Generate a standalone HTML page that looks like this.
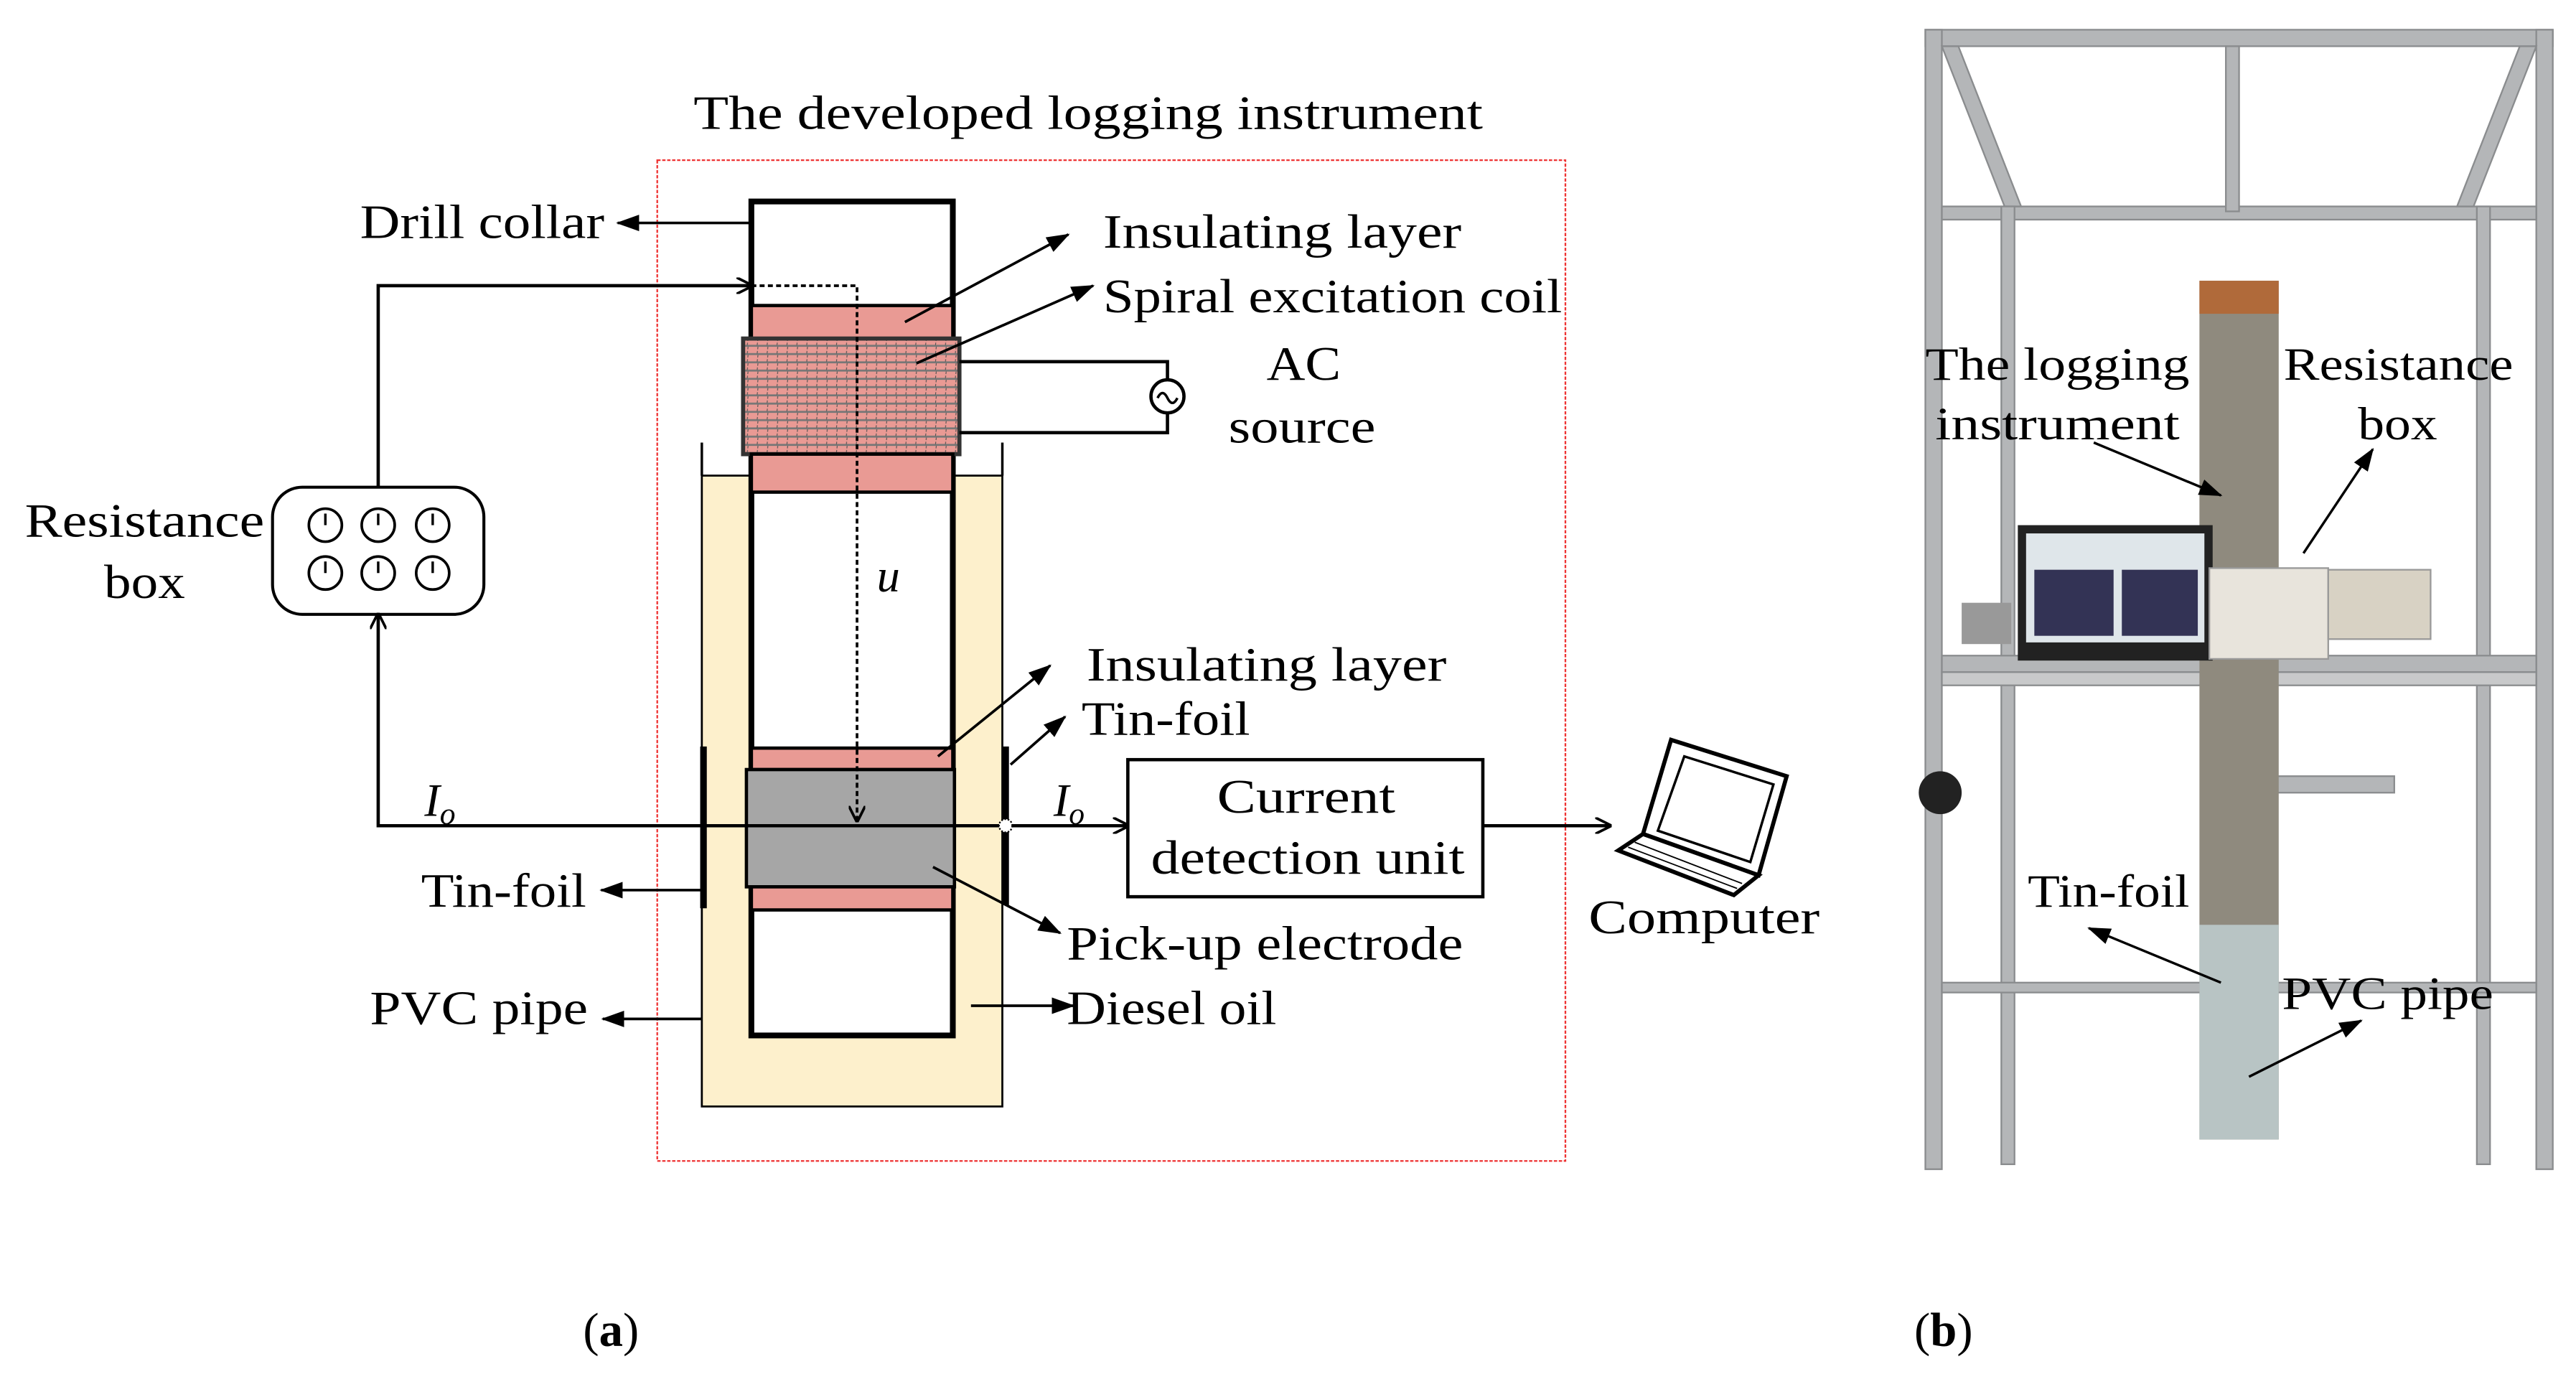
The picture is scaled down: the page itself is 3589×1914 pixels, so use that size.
<!DOCTYPE html>
<html><head><meta charset="utf-8"><style>
html,body{margin:0;padding:0;background:#fff;}
svg{display:block;}
text{font-family:"Liberation Serif",serif;fill:#000;}
</style></head><body>
<svg width="3589" height="1914" viewBox="0 0 1560 832" xmlns="http://www.w3.org/2000/svg">
<defs>
<marker id="a" markerWidth="10" markerHeight="10" refX="9" refY="5" orient="auto" markerUnits="userSpaceOnUse"><path d="M0,0 L10,5 L0,10" fill="none" stroke="#000" stroke-width="1.6"/></marker>
<marker id="f" markerWidth="14" markerHeight="10" refX="13" refY="5" orient="auto" markerUnits="userSpaceOnUse"><path d="M0,0 L14,5 L0,10 Z" fill="#000"/></marker>
<pattern id="h" width="6" height="5" patternUnits="userSpaceOnUse"><rect width="6" height="5" fill="#e99a94"/><line x1="0" y1="4.5" x2="6" y2="4.5" stroke="#777" stroke-width="1.4"/><line x1="3" y1="0" x2="2.4" y2="5" stroke="#555" stroke-width="0.5" stroke-dasharray="1.5,1"/></pattern>
</defs>
<text x="420" y="78" font-size="29" textLength="478" lengthAdjust="spacingAndGlyphs">The developed logging instrument</text>
<rect x="398" y="97" width="550" height="606" fill="none" stroke="#e33" stroke-width="1" stroke-dasharray="2,1"/>
<rect x="425" y="288" width="182" height="382" fill="#fdf0cc" stroke="#000" stroke-width="1.2"/>
<line x1="425" y1="268" x2="425" y2="288" stroke="#000" stroke-width="1.5"/>
<line x1="607" y1="268" x2="607" y2="288" stroke="#000" stroke-width="1.5"/>
<rect x="455" y="122" width="122" height="505" fill="#fff" stroke="#000" stroke-width="3.5"/>
<rect x="455" y="185" width="122" height="20" fill="#e99a94" stroke="#000" stroke-width="2"/>
<rect x="450" y="205" width="131" height="70" fill="url(#h)" stroke="#333" stroke-width="2.5"/>
<rect x="455" y="275" width="122" height="23" fill="#e99a94" stroke="#000" stroke-width="2"/>
<rect x="455" y="453" width="122" height="13" fill="#e99a94" stroke="#000" stroke-width="2"/>
<rect x="452" y="466" width="126" height="71" fill="#a6a6a6" stroke="#000" stroke-width="2"/>
<rect x="455" y="537" width="122" height="14" fill="#e99a94" stroke="#000" stroke-width="2"/>
<line x1="426" y1="452" x2="426" y2="550" stroke="#000" stroke-width="4"/>
<line x1="609" y1="452" x2="609" y2="548" stroke="#000" stroke-width="4"/>
<polyline points="581,219 707,219 707,230" fill="none" stroke="#000" stroke-width="2"/>
<polyline points="707,250 707,262 581,262" fill="none" stroke="#000" stroke-width="2"/>
<circle cx="707" cy="240" r="10" fill="#fff" stroke="#000" stroke-width="2"/>
<path d="M701,241 q3,-6 6,0 t6,0" fill="none" stroke="#000" stroke-width="1.5"/>
<text x="767" y="230" font-size="29" textLength="45" lengthAdjust="spacingAndGlyphs">AC</text>
<text x="744" y="268" font-size="29" textLength="89" lengthAdjust="spacingAndGlyphs">source</text>
<rect x="165" y="295" width="128" height="77" rx="18" fill="#fff" stroke="#000" stroke-width="1.8"/>
<g fill="#fff" stroke="#000" stroke-width="1.6">
<circle cx="197" cy="318" r="10"/><circle cx="229" cy="318" r="10"/><circle cx="262" cy="318" r="10"/>
<circle cx="197" cy="347" r="10"/><circle cx="229" cy="347" r="10"/><circle cx="262" cy="347" r="10"/>
</g>
<g stroke="#000" stroke-width="1.5"><line x1="197" y1="318" x2="197" y2="311"/><line x1="229" y1="318" x2="229" y2="311"/><line x1="262" y1="318" x2="262" y2="311"/><line x1="197" y1="347" x2="197" y2="340"/><line x1="229" y1="347" x2="229" y2="340"/><line x1="262" y1="347" x2="262" y2="340"/></g>
<text x="15" y="325" font-size="29" textLength="145" lengthAdjust="spacingAndGlyphs">Resistance</text>
<text x="63" y="362" font-size="29" textLength="49" lengthAdjust="spacingAndGlyphs">box</text>
<polyline points="229,295 229,173 455,173" fill="none" stroke="#000" stroke-width="2" marker-end="url(#a)"/>
<polyline points="455,173 519,173 519,497" fill="none" stroke="#000" stroke-width="1.6" stroke-dasharray="3,2" marker-end="url(#a)"/>
<polyline points="683,500 229,500 229,372" fill="none" stroke="#000" stroke-width="2" marker-end="url(#a)"/>
<line x1="610" y1="500" x2="683" y2="500" stroke="#000" stroke-width="2" marker-end="url(#a)"/>
<circle cx="609" cy="500" r="4" fill="#fff" stroke="#000" stroke-width="1" stroke-dasharray="1,1"/>
<text x="531" y="358" font-size="28" font-style="italic">u</text>
<text x="257" y="494" font-size="28" font-style="italic">I<tspan font-size="19" dy="5">o</tspan></text>
<text x="638" y="494" font-size="28" font-style="italic">I<tspan font-size="19" dy="5">o</tspan></text>
<rect x="683" y="460" width="215" height="83" fill="#fff" stroke="#000" stroke-width="2"/>
<text x="737" y="492" font-size="29" textLength="108" lengthAdjust="spacingAndGlyphs">Current</text>
<text x="697" y="529" font-size="29" textLength="190" lengthAdjust="spacingAndGlyphs">detection unit</text>
<line x1="898" y1="500" x2="975" y2="500" stroke="#000" stroke-width="2" marker-end="url(#a)"/>
<g stroke="#000" stroke-width="2.5" fill="#fff">
<polygon points="1012,448 1082,470 1065,530 995,505"/>
<polygon points="1020,458 1074,475 1060,522 1004,503" fill="#fff" stroke-width="1.5"/>
<polygon points="995,505 1065,530 1050,542 980,515"/>
</g>
<g stroke="#000" stroke-width="0.8"><line x1="990" y1="510" x2="1055" y2="535"/><line x1="986" y1="513" x2="1052" y2="538"/></g>
<text x="962" y="565" font-size="29" textLength="140" lengthAdjust="spacingAndGlyphs">Computer</text>
<text x="218" y="144" font-size="29" textLength="148" lengthAdjust="spacingAndGlyphs">Drill collar</text>
<line x1="455" y1="135" x2="374" y2="135" stroke="#000" stroke-width="1.6" marker-end="url(#f)"/>
<text x="668" y="150" font-size="29" textLength="217" lengthAdjust="spacingAndGlyphs">Insulating layer</text>
<line x1="548" y1="195" x2="647" y2="142" stroke="#000" stroke-width="1.6" marker-end="url(#f)"/>
<text x="668" y="189" font-size="29" textLength="278" lengthAdjust="spacingAndGlyphs">Spiral excitation coil</text>
<line x1="555" y1="220" x2="662" y2="173" stroke="#000" stroke-width="1.6" marker-end="url(#f)"/>
<text x="658" y="412" font-size="29" textLength="218" lengthAdjust="spacingAndGlyphs">Insulating layer</text>
<line x1="568" y1="458" x2="636" y2="403" stroke="#000" stroke-width="1.6" marker-end="url(#f)"/>
<text x="655" y="445" font-size="29" textLength="102" lengthAdjust="spacingAndGlyphs">Tin-foil</text>
<line x1="612" y1="463" x2="645" y2="434" stroke="#000" stroke-width="1.6" marker-end="url(#f)"/>
<text x="255" y="549" font-size="29" textLength="100" lengthAdjust="spacingAndGlyphs">Tin-foil</text>
<line x1="426" y1="539" x2="364" y2="539" stroke="#000" stroke-width="1.6" marker-end="url(#f)"/>
<text x="646" y="581" font-size="29" textLength="240" lengthAdjust="spacingAndGlyphs">Pick-up electrode</text>
<line x1="565" y1="525" x2="642" y2="565" stroke="#000" stroke-width="1.6" marker-end="url(#f)"/>
<text x="224" y="620" font-size="29" textLength="132" lengthAdjust="spacingAndGlyphs">PVC pipe</text>
<line x1="425" y1="617" x2="365" y2="617" stroke="#000" stroke-width="1.6" marker-end="url(#f)"/>
<text x="646" y="620" font-size="29" textLength="127" lengthAdjust="spacingAndGlyphs">Diesel oil</text>
<line x1="588" y1="609" x2="650" y2="609" stroke="#000" stroke-width="1.6" marker-end="url(#f)"/>
<text x="370" y="815" font-size="29" text-anchor="middle">(<tspan font-weight="bold">a</tspan>)</text>
<text x="1177" y="815" font-size="29" text-anchor="middle">(<tspan font-weight="bold">b</tspan>)</text>
<g>
<rect x="1165" y="15" width="382" height="697" fill="#fff"/>
<g fill="#b4b6b8" stroke="#8a8c8e" stroke-width="1">
<rect x="1166" y="18" width="380" height="10"/>
<rect x="1166" y="18" width="10" height="690"/>
<rect x="1536" y="18" width="10" height="690"/>
<rect x="1176" y="125" width="360" height="8"/>
<rect x="1348" y="28" width="8" height="100"/>
<polygon points="1176,28 1186,28 1224,125 1214,125"/>
<polygon points="1536,28 1526,28 1488,125 1498,125"/>
<rect x="1212" y="125" width="8" height="580"/>
<rect x="1500" y="125" width="8" height="580"/>
<rect x="1176" y="397" width="360" height="10"/>
<rect x="1176" y="407" width="360" height="8" fill="#c8c9ca"/>
<rect x="1350" y="470" width="100" height="10"/>
<rect x="1176" y="595" width="360" height="6"/>
</g>
<rect x="1332" y="170" width="48" height="520" fill="#8f8a7e"/>
<rect x="1332" y="170" width="48" height="20" fill="#b06a3a"/>
<rect x="1332" y="560" width="48" height="130" fill="#b8c4c4"/>
<rect x="1222" y="318" width="118" height="82" fill="#222"/>
<rect x="1227" y="323" width="108" height="66" fill="#dfe6ea"/>
<rect x="1232" y="345" width="48" height="40" fill="#335"/>
<rect x="1285" y="345" width="46" height="40" fill="#335"/>
<rect x="1338" y="344" width="72" height="55" fill="#e8e4dc" stroke="#999"/>
<rect x="1410" y="345" width="62" height="42" fill="#d8d2c4" stroke="#999"/>
<circle cx="1175" cy="480" r="13" fill="#222"/>
<rect x="1188" y="365" width="30" height="25" fill="#999"/>
<g font-size="28" fill="#000">
<text x="1166" y="230" textLength="160" lengthAdjust="spacingAndGlyphs">The logging</text>
<text x="1172" y="266" textLength="148" lengthAdjust="spacingAndGlyphs">instrument</text>
<text x="1383" y="230" textLength="139" lengthAdjust="spacingAndGlyphs">Resistance</text>
<text x="1428" y="266" textLength="48" lengthAdjust="spacingAndGlyphs">box</text>
<text x="1228" y="549" textLength="98" lengthAdjust="spacingAndGlyphs">Tin-foil</text>
<text x="1382" y="611" textLength="128" lengthAdjust="spacingAndGlyphs">PVC pipe</text>
</g>
<line x1="1268" y1="268" x2="1345" y2="300" stroke="#000" stroke-width="1.5" marker-end="url(#f)"/>
<line x1="1395" y1="335" x2="1437" y2="272" stroke="#000" stroke-width="1.5" marker-end="url(#f)"/>
<line x1="1345" y1="595" x2="1265" y2="562" stroke="#000" stroke-width="1.5" marker-end="url(#f)"/>
<line x1="1362" y1="652" x2="1430" y2="618" stroke="#000" stroke-width="1.5" marker-end="url(#f)"/>
</g>
</svg>
</body></html>
